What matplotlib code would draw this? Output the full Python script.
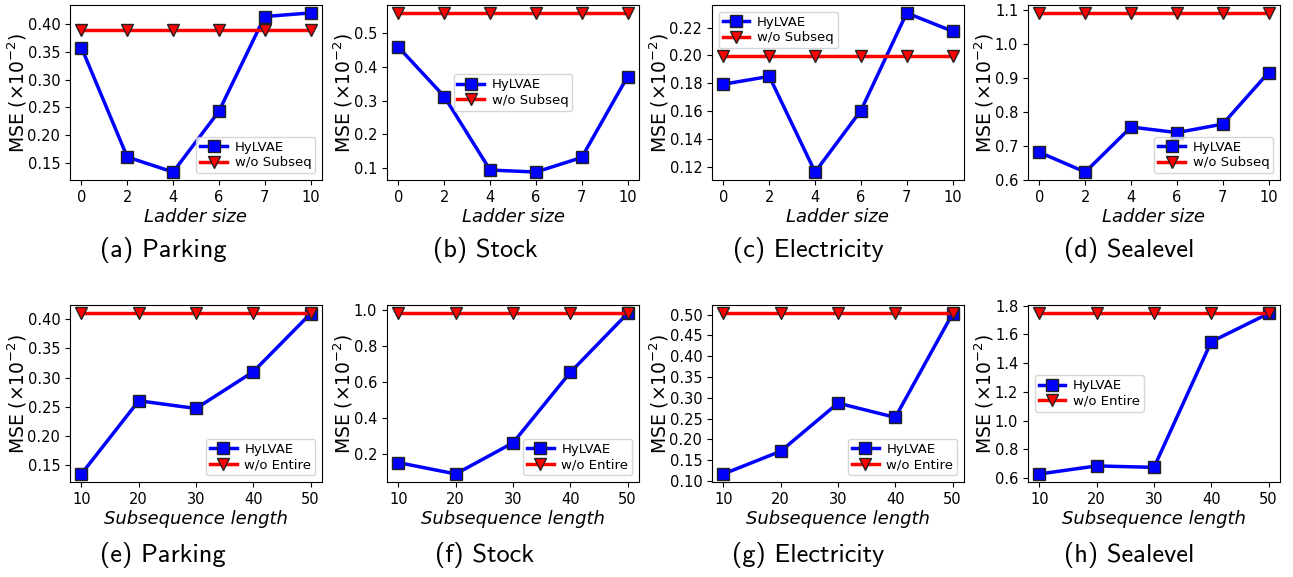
import matplotlib.pyplot as plt
from matplotlib.ticker import MultipleLocator
import numpy as np

ladder_labels = ['0', '2', '4', '6', '7', '10']
subseq_lengths = [10, 20, 30, 40, 50]

# ladder size experiments (top row)
parking_ladder = [0.358, 0.1605, 0.1334, 0.243, 0.414, 0.4204]
parking_nosub = 0.3897
stock_ladder = [0.458, 0.312, 0.095, 0.089, 0.132, 0.371]
stock_nosub = 0.559
elec_ladder = [0.1794, 0.185, 0.1164, 0.1605, 0.2305, 0.2174]
elec_nosub = 0.1996
sea_ladder = [0.680, 0.622, 0.7545, 0.738, 0.763, 0.9147]
sea_nosub = 1.090

# subsequence length experiments (bottom row)
parking_subseq = [0.134, 0.260, 0.2467, 0.310, 0.410]
parking_noent = 0.411
stock_subseq = [0.151, 0.088, 0.261, 0.652, 0.980]
stock_noent = 0.982
elec_subseq = [0.117, 0.1717, 0.2874, 0.253, 0.5024]
elec_noent = 0.504
sea_subseq = [0.628, 0.684, 0.674, 1.549, 1.746]
sea_noent = 1.749

captions = ['(a) Parking', '(b) Stock', '(c) Electricity', '(d) Sealevel',
            '(e) Parking', '(f) Stock', '(g) Electricity', '(h) Sealevel']

top = [(parking_ladder, parking_nosub, 'lower right', 0.05),
       (stock_ladder, stock_nosub, 'center', 0.1),
       (elec_ladder, elec_nosub, 'upper left', 0.02),
       (sea_ladder, sea_nosub, 'lower right', 0.1)]
bottom = [(parking_subseq, parking_noent, 'lower right', 0.05),
          (stock_subseq, stock_noent, 'lower right', 0.2),
          (elec_subseq, elec_noent, 'lower right', 0.05),
          (sea_subseq, sea_noent, 'center left', 0.2)]

fig = plt.figure(figsize=(12.93, 5.77), dpi=100)

W, H = 1293, 577
lefts = [70, 387, 712, 1028]
width = 252
rows = [(5, 180), (305, 482)]
cap_y = [250, 555]
col_centers = [163, 485, 808, 1129]


def draw(ax, x, y, base, base_label, loc, step, xlabel, xticklabels=None):
    ax.plot(x, y, color='blue', lw=2.5, marker='s', ms=8,
            mfc='blue', mec='#222222', mew=1.0, label='HyLVAE')
    ax.plot(x, [base] * len(x), color='red', lw=2.5, marker='v', ms=8,
            mfc='red', mec='#222222', mew=1.0, label=base_label)
    ax.set_xticks(x)
    if xticklabels is not None:
        ax.set_xticklabels(xticklabels)
    ax.yaxis.set_major_locator(MultipleLocator(step))
    ax.tick_params(labelsize=10.5)
    ax.set_xlabel(xlabel, fontsize=13, style='italic', labelpad=2)
    ax.set_ylabel(r'MSE ($\times 10^{-2}$)', fontsize=13.5, labelpad=-1)
    ax.legend(loc=loc, fontsize=9.5, handlelength=2.0, borderpad=0.3,
              labelspacing=0.2, handletextpad=0.6)


for r, (data, label, xl) in enumerate([(top, 'w/o Subseq', 'Ladder size'),
                                        (bottom, 'w/o Entire', 'Subsequence length')]):
    t, b = rows[r]
    for c in range(4):
        ax = fig.add_axes([lefts[c] / W, 1 - b / H, width / W, (b - t) / H])
        y, base, loc, step = data[c]
        if r == 0:
            draw(ax, list(range(len(ladder_labels))), y, base, label, loc, step, xl, ladder_labels)
        else:
            draw(ax, subseq_lengths, y, base, label, loc, step, xl)
        fig.text(col_centers[c] / W, 1 - cap_y[r] / H, captions[r * 4 + c],
                 ha='center', va='center', fontsize=19, family=['cmss10', 'DejaVu Sans'])

fig.savefig('out.png', dpi=100)
